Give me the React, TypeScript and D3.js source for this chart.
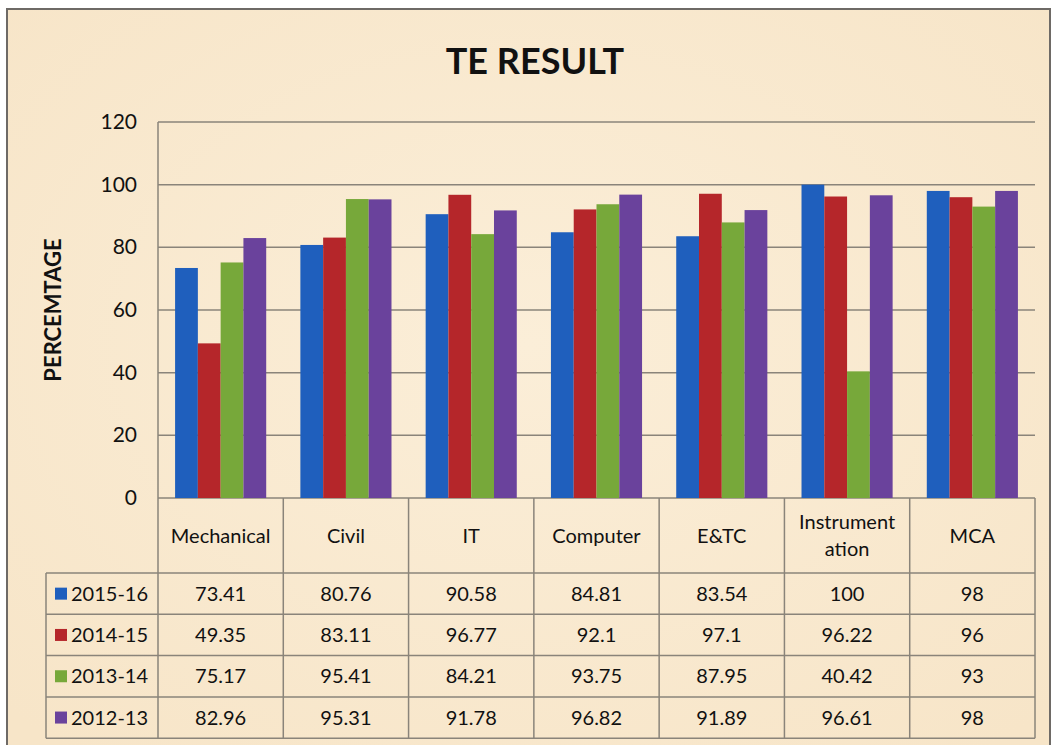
import React from "react";
import { scaleBand, scaleLinear } from "d3";

const categories = ["Mechanical", "Civil", "IT", "Computer", "E&TC", "Instrumentation", "MCA"];
const categoryLines = [["Mechanical"], ["Civil"], ["IT"], ["Computer"], ["E&TC"], ["Instrument", "ation"], ["MCA"]];
const years = ["2015-16", "2014-15", "2013-14", "2012-13"];
const v2015 = [73.41, 80.76, 90.58, 84.81, 83.54, 100, 98];
const v2014 = [49.35, 83.11, 96.77, 92.1, 97.1, 96.22, 96];
const v2013 = [75.17, 95.41, 84.21, 93.75, 87.95, 40.42, 93];
const v2012 = [82.96, 95.31, 91.78, 96.82, 91.89, 96.61, 98];
const yTicks = [0, 20, 40, 60, 80, 100, 120];
const colors = ["#1f5fbd", "#b5262a", "#77a83a", "#6a429c"];

const series = [v2015, v2014, v2013, v2012];

export default function App() {
  const W = 1057;
  const H = 745;
  const left = 158;
  const right = 1035;
  const top = 122;
  const base = 498;
  const headerBottom = 573;
  const rowH = 41.3;
  const tableLeft = 46;
  const font = "Lato, 'Open Sans', sans-serif";

  const x = scaleBand().domain(categories).range([left, right]);
  const inner = scaleBand()
    .domain(years)
    .range([0, x.bandwidth()])
    .paddingOuter(0.75)
    .paddingInner(0);
  const y = scaleLinear().domain([0, 120]).range([base, top]);
  const tableBottom = headerBottom + rowH * years.length;

  return (
    <svg
      width={W}
      height={H}
      style={{ position: "absolute", left: 0, top: 0, display: "block" }}
      fontFamily={font}
    >
      <defs>
        <radialGradient id="bg" cx="50%" cy="45%" r="70%">
          <stop offset="0%" stopColor="#fbeed8" />
          <stop offset="100%" stopColor="#f7e5c8" />
        </radialGradient>
      </defs>
      <rect x={0} y={0} width={W} height={H} fill="#ffffff" />
      <rect x={7} y={9} width={1043} height={745} fill="url(#bg)" stroke="#6e6a66" strokeWidth={2} />

      <text x={535} y={74} textAnchor="middle" fontSize={36} fontWeight={700} fill="#111">
        TE RESULT
      </text>

      <text
        transform={`translate(61,${(top + base) / 2}) rotate(-90)`}
        textAnchor="middle"
        fontSize={22}
        fontWeight={700}
        fill="#111"
      >
        PERCEMTAGE
      </text>

      {yTicks.map((t) => (
        <g key={t}>
          <line x1={left} x2={right} y1={y(t)} y2={y(t)} stroke="#8a847a" strokeWidth={1.5} />
          <text x={137} y={y(t) + 7} textAnchor="end" fontSize={21} fill="#111">
            {t}
          </text>
        </g>
      ))}
      <line x1={left} x2={left} y1={top} y2={tableBottom} stroke="#8a847a" strokeWidth={1.5} />

      {categories.map((c, ci) => (
        <g key={c}>
          {series.map((vals, si) => (
            <rect
              key={si}
              x={(x(c) as number) + (inner(years[si]) as number)}
              y={y(vals[ci])}
              width={inner.bandwidth()}
              height={base - y(vals[ci])}
              fill={colors[si]}
            />
          ))}
        </g>
      ))}

      {/* data table */}
      {categories.map((c, ci) => (
        <line
          key={c}
          x1={(x(c) as number) + x.bandwidth()}
          x2={(x(c) as number) + x.bandwidth()}
          y1={base}
          y2={tableBottom}
          stroke="#8a847a"
          strokeWidth={1.5}
        />
      ))}
      {years.map((yr, i) => (
        <line
          key={yr}
          x1={tableLeft}
          x2={right}
          y1={headerBottom + rowH * i}
          y2={headerBottom + rowH * i}
          stroke="#8a847a"
          strokeWidth={1.5}
        />
      ))}
      <line x1={tableLeft} x2={right} y1={tableBottom} y2={tableBottom} stroke="#8a847a" strokeWidth={1.5} />
      <line x1={tableLeft} x2={tableLeft} y1={headerBottom} y2={tableBottom} stroke="#8a847a" strokeWidth={1.5} />

      {categoryLines.map((lines, ci) => {
        const cx = (x(categories[ci]) as number) + x.bandwidth() / 2;
        const mid = (base + headerBottom) / 2;
        return (
          <text key={ci} x={cx} textAnchor="middle" fontSize={20} fill="#111">
            {lines.map((l, li) => (
              <tspan key={li} x={cx} y={mid + 7 + (li - (lines.length - 1) / 2) * 27}>
                {l}
              </tspan>
            ))}
          </text>
        );
      })}

      {years.map((yr, si) => {
        const rowMid = headerBottom + rowH * si + rowH / 2;
        return (
          <g key={yr}>
            <rect x={55} y={rowMid - 6} width={12} height={12} fill={colors[si]} />
            <text x={71} y={rowMid + 7} fontSize={20} fill="#111">
              {yr}
            </text>
            {series[si].map((v, ci) => (
              <text
                key={ci}
                x={(x(categories[ci]) as number) + x.bandwidth() / 2}
                y={rowMid + 7}
                textAnchor="middle"
                fontSize={20}
                fill="#111"
              >
                {v}
              </text>
            ))}
          </g>
        );
      })}
    </svg>
  );
}
